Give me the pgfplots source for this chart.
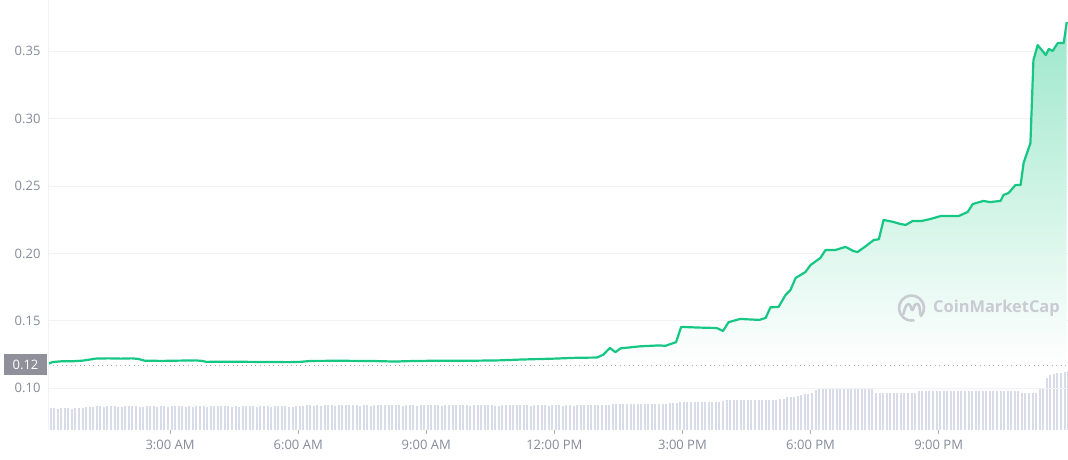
\documentclass[border=0pt]{standalone}
\usepackage{pgfplots}
\pgfplotsset{compat=1.18}
\usepackage{pgfplotstable}
\usepackage{fontspec}
\setmainfont{Open Sans}
\definecolor{cmcgreen}{HTML}{16C784}
\definecolor{lblgrey}{HTML}{858A99}
\definecolor{volgrey}{HTML}{D8DBE8}
\definecolor{gridgrey}{HTML}{F1F2F5}
\definecolor{boxgrey}{HTML}{8F9099}
\definecolor{wmgrey}{HTML}{C9CBD3}

% price (USD) vs hour of day
\pgfplotstableread{
h p
0.14 0.1181
0.25 0.1195
0.45 0.1200
0.70 0.1200
0.95 0.1205
1.10 0.1212
1.25 0.1220
1.55 0.1222
1.85 0.1220
2.10 0.1222
2.25 0.1218
2.40 0.1205
2.80 0.1203
3.20 0.1205
3.60 0.1207
3.75 0.1203
3.85 0.1196
4.50 0.1197
5.20 0.1195
5.80 0.1194
6.05 0.1196
6.30 0.1203
7.00 0.1204
7.80 0.1202
8.30 0.1198
8.50 0.1201
9.10 0.1204
10.00 0.1204
10.70 0.1207
11.20 0.1213
12.00 0.1220
12.50 0.1226
13.00 0.1228
13.15 0.1250
13.30 0.1299
13.43 0.1268
13.55 0.1296
14.00 0.1311
14.45 0.1318
14.60 0.1315
14.85 0.1342
14.97 0.1455
15.40 0.1450
15.80 0.1447
15.95 0.1425
16.08 0.1490
16.35 0.1514
16.80 0.1507
16.95 0.1522
17.06 0.1600
17.25 0.1603
17.41 0.1690
17.53 0.1729
17.65 0.1818
17.88 0.1862
18.00 0.1914
18.23 0.1966
18.35 0.2025
18.58 0.2025
18.82 0.2048
19.00 0.2018
19.10 0.2010
19.30 0.2055
19.48 0.2099
19.60 0.2105
19.71 0.2248
19.94 0.2233
20.10 0.2218
20.23 0.2211
20.39 0.2240
20.60 0.2240
20.81 0.2255
21.05 0.2277
21.47 0.2277
21.68 0.2307
21.80 0.2366
22.05 0.2389
22.20 0.2380
22.45 0.2389
22.52 0.2433
22.64 0.2448
22.80 0.2507
22.92 0.2507
22.99 0.2670
23.15 0.2818
23.22 0.3433
23.32 0.3544
23.51 0.3470
23.58 0.3515
23.67 0.3500
23.79 0.3559
23.93 0.3559
24.00 0.3715
}\price

% volume (relative), one bar every 5 minutes from 00:12
\pgfplotstableread{
v
22
22
21
22
22
22
21
22
22
22
23
23
23
24
24
23
24
24
24
23
23
24
24
24
24
23
23
24
24
24
23
24
24
23
24
24
24
24
23
24
23
24
24
24
23
24
24
24
24
24
24
23
24
23
24
24
24
24
23
24
24
24
23
24
24
24
24
23
23
24
24
24
25
25
24
25
24
25
25
25
24
25
25
25
25
25
25
24
25
25
24
25
25
25
25
25
25
25
25
24
25
25
25
24
25
25
25
25
25
25
24
25
25
25
25
25
25
25
24
25
25
25
25
25
25
24
24
25
25
25
25
25
25
25
25
24
25
25
25
25
24
25
25
25
24
25
25
24
25
25
25
25
25
25
25
25
25
25
26
26
26
26
26
26
26
26
26
26
26
26
26
26
26
26
27
27
27
28
28
28
28
28
28
28
28
28
28
28
28
29
30
30
30
30
30
30
30
30
30
30
30
30
30
30
30
31
31
33
33
33
34
35
36
36
37
40
41
41
41
41
41
41
41
41
41
41
41
41
41
41
41
41
37
37
37
37
37
37
37
37
37
37
37
37
39
39
39
39
39
39
39
39
39
39
39
39
39
39
39
39
39
39
39
39
39
39
39
39
39
39
39
39
39
37
37
37
37
37
41
42
52
55
56
57
57
58
59
60
62
65
}\vol

\begin{document}
\begin{tikzpicture}
\useasboundingbox (-48pt,-30pt) rectangle (1020pt,430pt);
% volume bars
\begin{axis}[scale only axis, width=1020pt, height=430pt,
  xmin=0.14, xmax=24.03, ymin=0, ymax=430, hide axis]
\addplot[ycomb, volgrey, line width=2pt, mark=none] table[x expr=0.2+\coordindex/12, y=v] {\vol};
\end{axis}
% price
\begin{axis}[scale only axis, width=1020pt, height=430pt,
  xmin=0.14, xmax=24.03, ymin=0.0691, ymax=0.3878,
  axis line style={draw=none},
  ytick={0.10,0.15,0.20,0.25,0.30,0.35},
  ymajorgrids, grid style={gridgrey, line width=0.8pt},
  xtick={3,6,9,12,15,18,21},
  xticklabels={3:00 AM,6:00 AM,9:00 AM,12:00 PM,3:00 PM,6:00 PM,9:00 PM},
  tick align=outside, major tick length=4pt,
  ytick style={draw=none},
  xtick style={draw=lblgrey!70, line width=0.8pt},
  ticklabel style={font=\fontsize{13}{15}\selectfont, text=lblgrey},
  yticklabel style={/pgf/number format/fixed, /pgf/number format/fixed zerofill,
    /pgf/number format/precision=2, /pgf/number format/assume math mode=true},
  xticklabel style={yshift=-3pt},
]
\addplot[draw=none, top color=cmcgreen!42!white, bottom color=white] table[x=h, y=p] {\price}
  -- (axis cs:24.00,0.1173) -- (axis cs:0.14,0.1173) -- cycle;
\addplot[lblgrey!70, line width=0.9pt, dash pattern=on 1pt off 3.5pt, mark=none] coordinates {(0.14,0.1173) (24.03,0.1173)};
\addplot[cmcgreen, line width=2.2pt, line join=round, mark=none] table[x=h, y=p] {\price};
\end{axis}
\draw[gridgrey, line width=0.8pt] (0,0) -- (0,430pt);
% current-price tag
\node[fill=boxgrey, text=white, font=\fontsize{13}{15}\selectfont, minimum width=43pt, minimum height=21pt, inner sep=0pt] at (-22.5pt,65.5pt) {0.12};
% watermark
\begin{scope}[shift={(863.5pt,122pt)}, wmgrey, line width=2.6pt, line cap=round]
\draw (-40:12.5pt) arc[start angle=-40, end angle=280, radius=12.5pt];
\draw[line join=round] (-8pt,-6pt) .. controls (-6pt,4pt) and (-3pt,6pt) .. (-1pt,2pt) .. controls (0pt,-2pt) and (1pt,-4pt) .. (2pt,0pt) .. controls (3pt,5pt) and (7pt,6pt) .. (8pt,1pt) -- (9pt,-7pt);
\end{scope}
\node[anchor=west, text=wmgrey, font=\fontsize{16.4}{19}\selectfont\bfseries, inner sep=0pt] at (885pt,122pt) {CoinMarketCap};
\end{tikzpicture}
\end{document}
